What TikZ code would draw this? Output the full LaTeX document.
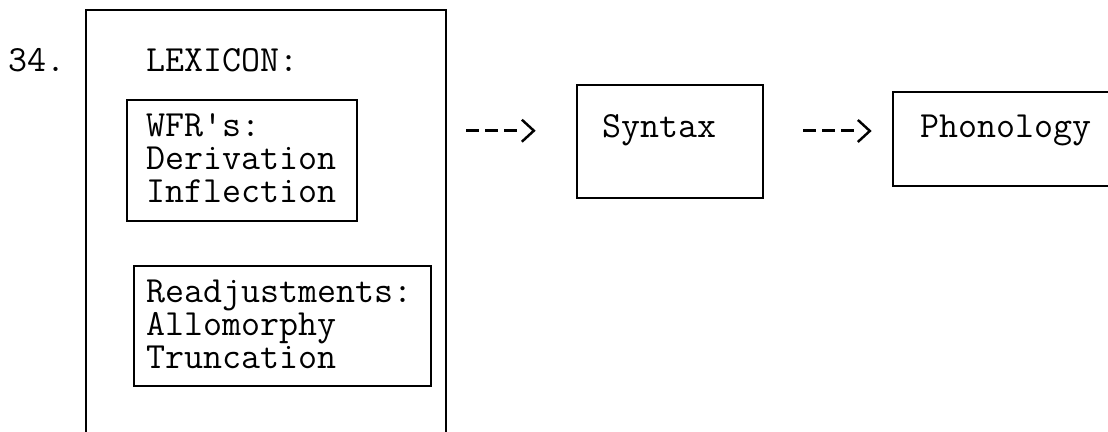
\documentclass[tikz,border=0pt]{standalone}
\usetikzlibrary{arrows.meta, calc}

\begin{document}
\begin{tikzpicture}[
    box/.style={rectangle, draw, line width=1.5pt, inner sep=0pt},
    lbl/.style={inner sep=0pt, align=left, anchor=base west,
                font=\fontsize{21}{18.8}\selectfont\ttfamily},
    flow/.style={line width=1.7pt,
                 dash pattern=on 0.26cm off 0.12cm on 0.26cm off 0.12cm on 0.26cm off 2cm,
                 -{Straight Barb[length=0.24cm, width=0.44cm, line width=1.4pt]}}]
    \useasboundingbox (0, 0) rectangle (22.16, -8.64);

    % Lexicon and its components (base of a multi-line label = its last line)
    \node[lbl] (num) at (0.16, -1.44) {34.};
    \node[box, minimum width=7.2cm, minimum height=8.8cm] (lex) at (5.32, -4.6) {};
    \node[lbl] (lextxt) at (2.92, -1.44) {LEXICON:};
    \node[box, minimum width=4.6cm, minimum height=2.42cm] (wfr) at (4.84, -3.21) {};
    \node[lbl] (wfrtxt) at (2.92, -4.06) {WFR\textquotesingle s:\\Derivation\\Inflection};
    \node[box, minimum width=5.94cm, minimum height=2.4cm] (readj) at (5.65, -6.52) {};
    \node[lbl] (readjtxt) at (2.92, -7.38) {Readjustments:\\Allomorphy\\Truncation};

    % Later components
    \node[box, minimum width=3.72cm, minimum height=2.26cm] (syn) at (13.40, -2.83) {};
    \node[lbl] (syntxt) at (12.04, -2.76) {Syntax};
    \node[box, minimum width=5.14cm, minimum height=1.88cm] (phon) at (20.43, -2.78) {};
    \node[lbl] (phontxt) at (18.40, -2.76) {Phonology};

    % Arrows
    \draw[flow, shorten <=0.38cm, shorten >=0.8cm] (lex.east |- syntxt) -- (syn.west |- syntxt);
    \draw[flow, shorten <=0.78cm, shorten >=0.4cm] (syn.east |- phontxt) -- (phon.west |- phontxt);
\end{tikzpicture}
\end{document}
